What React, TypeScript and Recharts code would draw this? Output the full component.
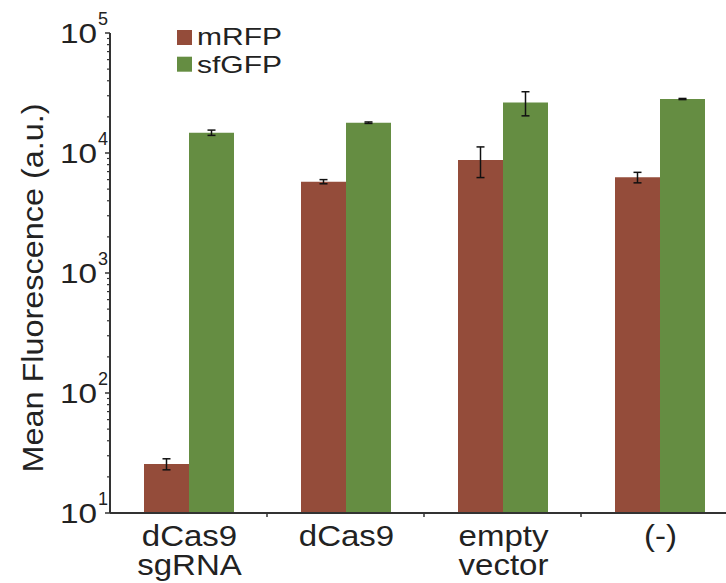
import { BarChart, Bar, XAxis, YAxis, ErrorBar, Legend } from "recharts";

const categories = ["dCas9\nsgRNA", "dCas9", "empty\nvector", "(-)"];
const mRfp = [25.6, 5770, 8740, 6270];
const mRfpErr = [2.7, 230, 2500, 630];
const sfGfp = [14770, 17890, 26400, 28180];
const sfGfpErr = [750, 250, 6000, 300];
const majorTicks = [10, 100, 1000, 10000, 100000];
const minorSteps = [2, 3, 4, 5, 6, 7, 8, 9];

const RED = "#944c3a";
const GREEN = "#658d42";
const INK = "#222";
const AXIS = "#333";
const FONT = "Liberation Sans, Arial, sans-serif";

const CHART_W = 740;
const CHART_H = 583;
const AXIS_W = 110;
const PLOT_W = 628;
const step = PLOT_W / categories.length;

const data = categories.map((name, i) => ({
  name,
  mRFP: mRfp[i],
  mRFPErr: mRfpErr[i],
  sfGFP: sfGfp[i],
  sfGFPErr: sfGfpErr[i],
}));

// log axis: majors get "10^n" labels, minors just a short tick
const yTicks = [
  ...majorTicks,
  ...majorTicks.slice(0, -1).flatMap((d) => minorSteps.map((m) => m * d)),
].sort((a, b) => a - b);

function YTick(props: any) {
  const { x, y, payload } = props;
  const lg = Math.log10(payload.value);
  const exp = Math.round(lg);
  if (Math.abs(lg - exp) > 1e-6) {
    return <line x1={x - 3} x2={x} y1={y} y2={y} stroke={AXIS} strokeWidth={1.2} />;
  }
  return (
    <g fontFamily={FONT} fill={INK}>
      <line x1={x - 5} x2={x} y1={y} y2={y} stroke={AXIS} strokeWidth={1.5} />
      <text
        transform={`translate(${x - 13},${y + 10}) scale(1.19,1)`}
        textAnchor="end"
        fontSize={28}
      >
        10
      </text>
      <text x={x - 2} y={y - 8} textAnchor="end" fontSize={18}>
        {exp}
      </text>
    </g>
  );
}

function XTick(props: any) {
  const { x, y, payload, index } = props;
  const lines = String(payload.value).split("\n");
  return (
    <g fontFamily={FONT} fill={INK}>
      {index > 0 && (
        <line x1={x - step / 2} x2={x - step / 2} y1={y} y2={y + 4} stroke={AXIS} strokeWidth={1.5} />
      )}
      <text
        transform={`translate(${x + 1},${y + 33}) scale(1.1,1)`}
        textAnchor="middle"
        fontSize={30}
      >
        {lines.map((l, i) => (
          <tspan key={i} x={0} dy={i === 0 ? 0 : 29}>
            {l}
          </tspan>
        ))}
      </text>
    </g>
  );
}

function YLabel() {
  return (
    <text
      transform="translate(43,288) rotate(-90) scale(1.08,1)"
      textAnchor="middle"
      fontSize={30}
      fontFamily={FONT}
      fill={INK}
    >
      Mean Fluorescence (a.u.)
    </text>
  );
}

function LegendBox() {
  const items = [
    { label: "mRFP", color: RED },
    { label: "sfGFP", color: GREEN },
  ];
  return (
    <svg width={170} height={66} style={{ display: "block", overflow: "visible" }}>
      {items.map((it, i) => (
        <g key={it.label}>
          <rect x={0} y={2 + i * 26.7} width={15} height={15} fill={it.color} />
          <text
            transform={`translate(20,${17 + i * 27.5}) scale(1.25,1)`}
            fontSize={24}
            fontFamily={FONT}
            fill={INK}
          >
            {it.label}
          </text>
        </g>
      ))}
    </svg>
  );
}

export default function App() {
  return (
    <div
      style={{
        position: "absolute",
        left: 0,
        top: 0,
        width: 726,
        height: 583,
        overflow: "hidden",
        background: "#fff",
      }}
    >
      <BarChart
        width={CHART_W}
        height={CHART_H}
        data={data}
        margin={{ top: 33, right: CHART_W - AXIS_W - PLOT_W, bottom: 0, left: 0 }}
        barGap={0}
        barSize={45}
      >
        <XAxis
          dataKey="name"
          height={70}
          interval={0}
          tickSize={0}
          tickMargin={0}
          tickLine={false}
          axisLine={{ stroke: AXIS, strokeWidth: 2 }}
          tick={<XTick />}
        />
        <YAxis
          scale="log"
          domain={[10, 100000]}
          allowDataOverflow
          ticks={yTicks}
          interval={0}
          width={AXIS_W}
          tickSize={0}
          tickMargin={0}
          tickLine={false}
          axisLine={{ stroke: AXIS, strokeWidth: 2 }}
          tick={<YTick />}
          label={<YLabel />}
        />
        <Legend
          layout="vertical"
          align="center"
          verticalAlign="middle"
          content={<LegendBox />}
          wrapperStyle={{ left: 177, top: 28, width: 170, height: 66 }}
        />
        <Bar dataKey="mRFP" fill={RED} isAnimationActive={false}>
          <ErrorBar dataKey="mRFPErr" width={4} stroke="#111" strokeWidth={1.5} />
        </Bar>
        <Bar dataKey="sfGFP" fill={GREEN} isAnimationActive={false}>
          <ErrorBar dataKey="sfGFPErr" width={4} stroke="#111" strokeWidth={1.5} />
        </Bar>
      </BarChart>
    </div>
  );
}
